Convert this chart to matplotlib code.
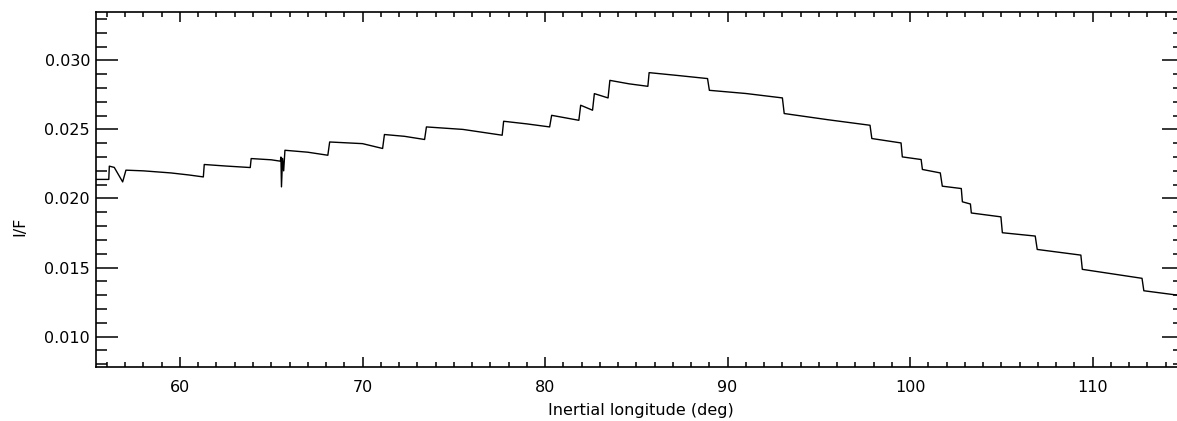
#!/usr/bin/env python3
import matplotlib
matplotlib.use('Agg')
import matplotlib.pyplot as plt
from matplotlib.ticker import MultipleLocator

# I/F profile versus inertial longitude
longitude = [
    55.40, 56.10, 56.13, 56.40, 56.86, 57.04, 58.00, 59.50, 60.50, 61.28,
    61.33, 62.50, 63.85, 63.90, 65.00, 65.50, 65.53, 65.56, 65.62, 65.68,
    65.75, 67.00, 68.10, 68.20, 70.00, 71.10, 71.20, 72.30, 73.40, 73.50,
    75.50, 77.65, 77.73, 79.00, 80.25, 80.36, 81.85, 81.95, 82.60, 82.70,
    83.45, 83.55, 84.60, 85.63, 85.70, 87.30, 88.90, 89.00, 91.00, 93.00,
    93.10, 95.50, 97.80, 97.90, 99.50, 99.57, 100.60, 100.67, 101.65, 101.76,
    102.80, 102.86, 103.30, 103.35, 104.97, 105.05, 106.85, 106.96, 109.35, 109.43,
    112.70, 112.80, 114.60,
]
iof = [
    0.02138, 0.02138, 0.02234, 0.02225, 0.02120, 0.02205, 0.02200, 0.02185, 0.02170, 0.02156,
    0.02246, 0.02235, 0.02224, 0.02289, 0.02280, 0.02270, 0.02300, 0.02084, 0.02290, 0.02200,
    0.02349, 0.02335, 0.02313, 0.02409, 0.02397, 0.02362, 0.02463, 0.02450, 0.02427, 0.02518,
    0.02500, 0.02458, 0.02559, 0.02540, 0.02518, 0.02602, 0.02566, 0.02675, 0.02639, 0.02759,
    0.02728, 0.02855, 0.02830, 0.02812, 0.02911, 0.02890, 0.02868, 0.02783, 0.02760, 0.02728,
    0.02615, 0.02570, 0.02530, 0.02434, 0.02402, 0.02301, 0.02282, 0.02210, 0.02185, 0.02089,
    0.02072, 0.01976, 0.01960, 0.01895, 0.01867, 0.01752, 0.01728, 0.01631, 0.01590, 0.01487,
    0.01422, 0.01332, 0.01301,
]
xticks = [60, 70, 80, 90, 100, 110]
yticks = [0.010, 0.015, 0.020, 0.025, 0.030]

plt.rcParams['font.family'] = ['DejaVu Sans']
fig = plt.figure(figsize=(11.77, 4.21), dpi=100)
W, H = 1177, 421
# plot box in pixels: left 96, right 1184 (just past the image edge), top 12, bottom 367
ax = fig.add_axes([96 / W, (H - 367) / H, (1184 - 96) / W, (367 - 12) / H])

ax.plot(longitude, iof, color='black', linewidth=1.0)

ax.set_xlim(55.4, 115.0)
ax.set_ylim(0.0078, 0.0335)
ax.set_xticks(xticks)
ax.set_yticks(yticks)
ax.set_xticklabels([str(t) for t in xticks])
ax.set_yticklabels([f'{t:.3f}' for t in yticks])
ax.xaxis.set_minor_locator(MultipleLocator(1))
ax.yaxis.set_minor_locator(MultipleLocator(0.001))

ax.tick_params(axis='both', which='both', direction='in', top=True, right=True,
               width=1.1, labelsize=11.5, colors='black')
ax.tick_params(axis='x', which='major', length=7, pad=9)
ax.tick_params(axis='x', which='minor', length=3.6)
ax.tick_params(axis='y', which='major', length=15.8, pad=4.3)
ax.tick_params(axis='y', which='minor', length=7.9)
for sp in ax.spines.values():
    sp.set_linewidth(1.2)

ax.set_xlabel('Inertial longitude (deg)', fontsize=11.5)
ax.set_ylabel('I/F', fontsize=11.5)
ax.xaxis.set_label_coords(0.501, -0.101)
ax.yaxis.set_label_coords(-0.063, 0.397)

fig.savefig('out.png', dpi=100)
